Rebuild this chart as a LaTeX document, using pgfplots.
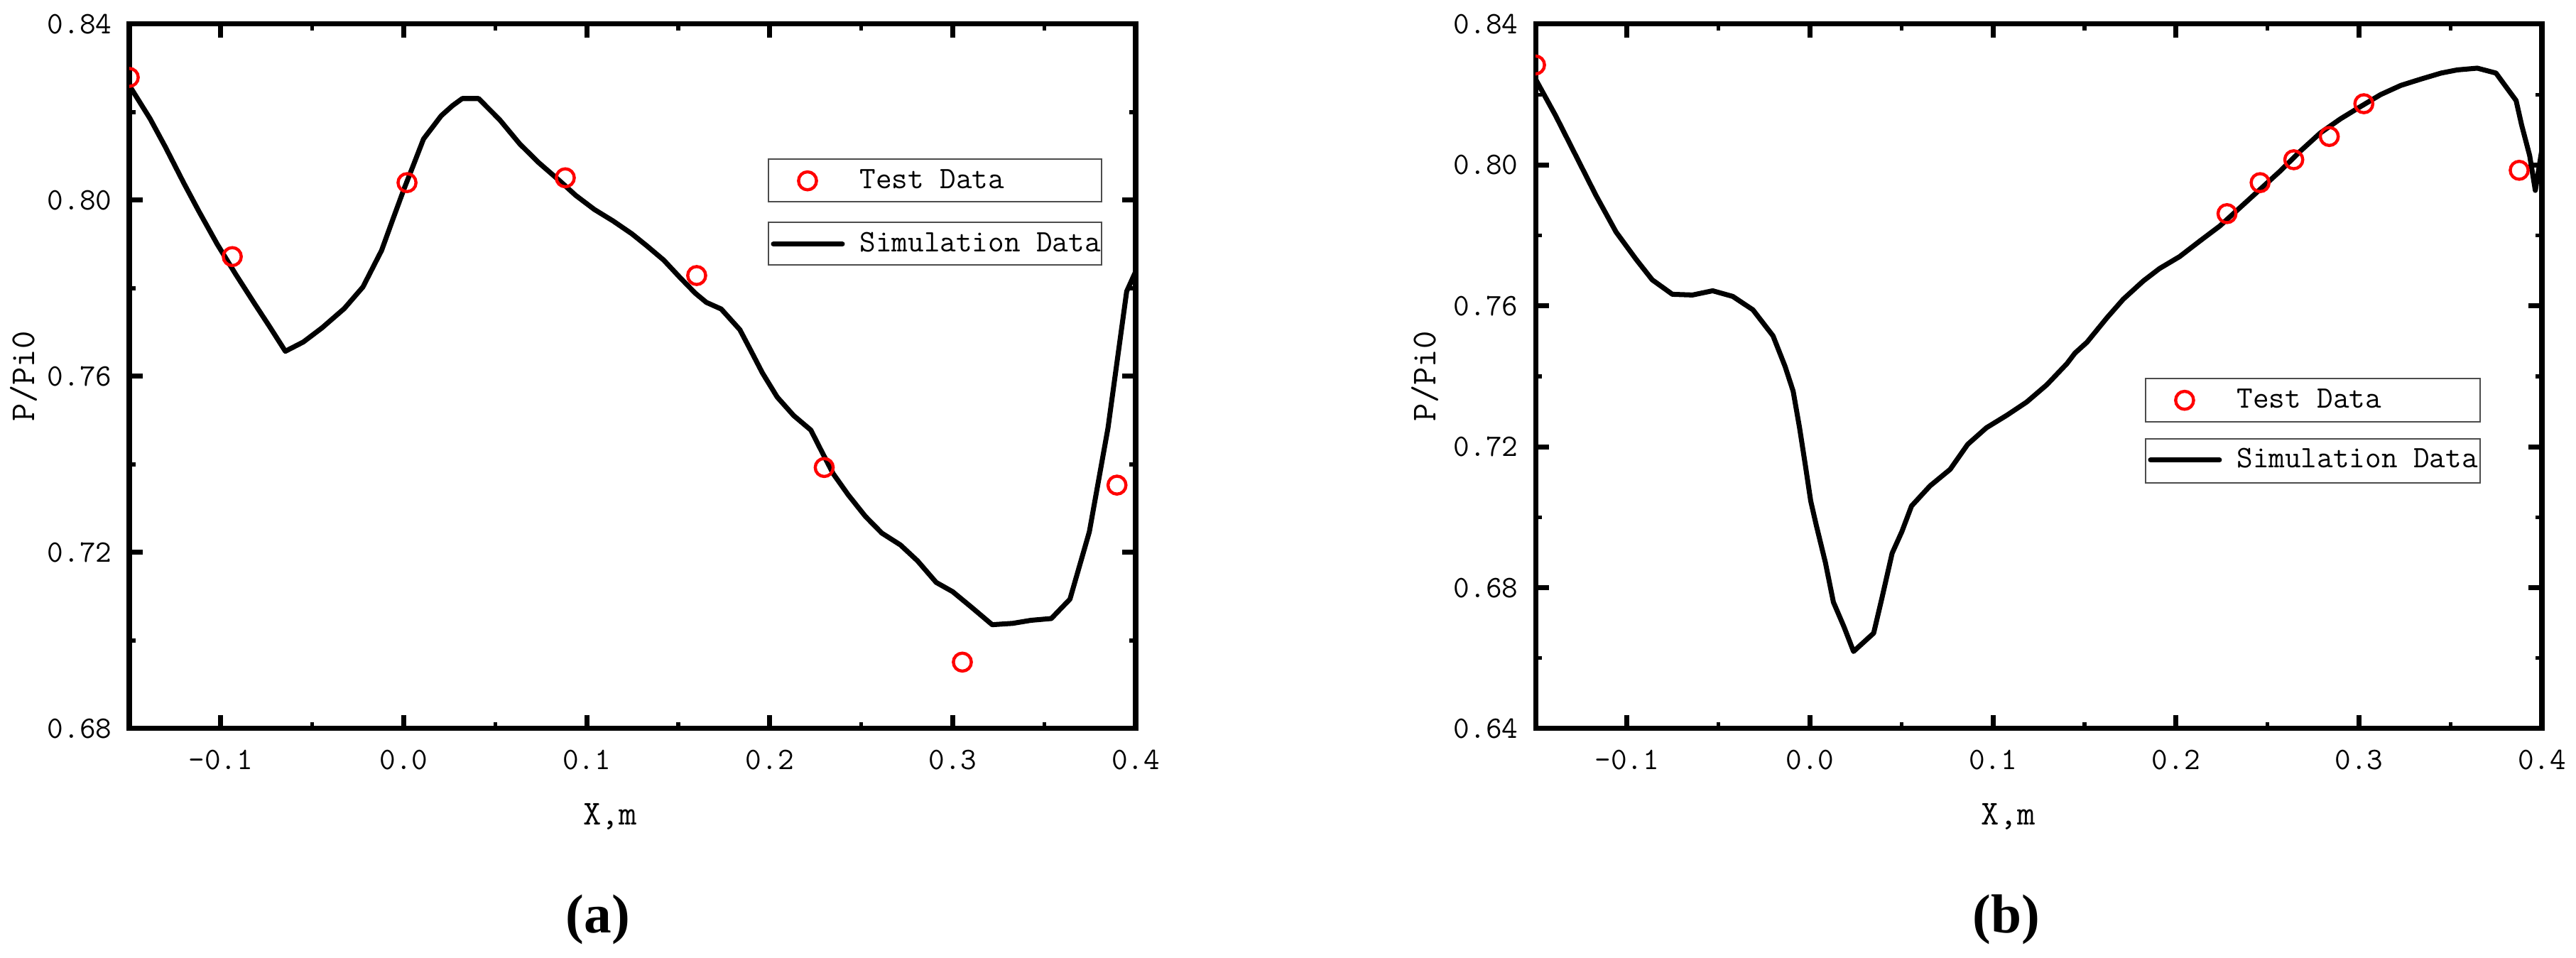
\documentclass[border=0pt]{standalone}
\usepackage{fontspec}
\usepackage{pgfplots}
\pgfplotsset{compat=1.18}
\newfontfamily\capfont{Liberation Serif}

\pgfplotstableread{
x y
-0.15 0.8261
-0.1386 0.8185
-0.1304 0.8122
-0.1202 0.8039
-0.1121 0.7976
-0.1019 0.7900
-0.0917 0.7831
-0.0815 0.7765
-0.0733 0.7713
-0.0647 0.7657
-0.0549 0.7678
-0.0447 0.7710
-0.0325 0.7754
-0.0223 0.7803
-0.0121 0.7886
-0.0060 0.7956
0.0001 0.8025
0.0054 0.8081
0.0108 0.8139
0.0205 0.8192
0.0267 0.8215
0.0320 0.8231
0.0409 0.8231
0.0524 0.8183
0.0634 0.8128
0.0736 0.8086
0.0858 0.8042
0.0940 0.8011
0.1042 0.7979
0.1144 0.7953
0.1246 0.7924
0.1327 0.7897
0.1421 0.7864
0.1511 0.7824
0.1593 0.7789
0.1654 0.7768
0.1735 0.7753
0.1837 0.7706
0.1899 0.7657
0.1960 0.7608
0.2041 0.7553
0.2131 0.7511
0.2225 0.7478
0.2286 0.7428
0.2347 0.7379
0.2429 0.7331
0.2523 0.7282
0.2613 0.7244
0.2715 0.7217
0.2808 0.7181
0.2910 0.7132
0.3000 0.7111
0.3102 0.7076
0.3216 0.7036
0.3327 0.7039
0.3429 0.7046
0.3539 0.7050
0.3641 0.7094
0.3747 0.7247
0.3849 0.7483
0.3951 0.7793
0.4000 0.7838
}\simA

\pgfplotstableread{
x y
-0.15 0.8279
-0.0937 0.7872
0.0018 0.8040
0.0883 0.8051
0.1601 0.7829
0.2298 0.7393
0.3053 0.6951
0.3898 0.7353
}\testA

\pgfplotstableread{
x y
-0.15 0.8244
-0.1390 0.8140
-0.1280 0.8027
-0.1170 0.7914
-0.1060 0.7810
-0.0950 0.7732
-0.0862 0.7674
-0.0752 0.7633
-0.0642 0.7631
-0.0532 0.7643
-0.0422 0.7627
-0.0312 0.7589
-0.0202 0.7515
-0.0136 0.7428
-0.0092 0.7358
-0.0057 0.7254
-0.0026 0.7150
0.0004 0.7046
0.0035 0.6976
0.0084 0.6872
0.0128 0.6759
0.0185 0.6690
0.0238 0.6619
0.0348 0.6671
0.0392 0.6768
0.0449 0.6898
0.0502 0.6959
0.0555 0.7032
0.0656 0.7089
0.0766 0.7136
0.0862 0.7207
0.0964 0.7254
0.1074 0.7289
0.1184 0.7327
0.1294 0.7376
0.1404 0.7436
0.1448 0.7466
0.1514 0.7497
0.1624 0.7567
0.1712 0.7619
0.1822 0.7671
0.1910 0.7706
0.2020 0.7740
0.2130 0.7784
0.2240 0.7827
0.2350 0.7879
0.2460 0.7931
0.2570 0.7983
0.2679 0.8039
0.2789 0.8091
0.2899 0.8131
0.3009 0.8166
0.3119 0.8200
0.3229 0.8226
0.3339 0.8244
0.3449 0.8261
0.3537 0.8270
0.3647 0.8275
0.3749 0.8261
0.3859 0.8183
0.3889 0.8114
0.3933 0.8027
0.3964 0.7928
0.4000 0.8044
}\simB

\pgfplotstableread{
x y
-0.15 0.8284
0.2279 0.7862
0.2460 0.7950
0.2644 0.8015
0.2838 0.8081
0.3027 0.8174
0.3876 0.7985
}\testB

\pgfplotsset{
  panel/.style={
    scale only axis, width=14.17cm, height=9.92cm,
    xmin=-0.15, xmax=0.4,
    xtick={-0.1,0,0.1,0.2,0.3,0.4},
    minor x tick num=1, minor y tick num=1,
    tick align=inside,
    major tick length=0.19cm, minor tick length=0.09cm,
    major tick style={black, line width=2pt},
    minor tick style={black, line width=1.5pt},
    axis line style={black, line width=2pt},
    /pgf/number format/assume math mode=true,
    ticklabel style={font=\fontsize{12.5}{15}\selectfont\ttfamily},
    xticklabel style={/pgf/number format/fixed, /pgf/number format/fixed zerofill, /pgf/number format/precision=1, anchor=center, yshift=-0.44cm},
    yticklabel style={/pgf/number format/fixed, /pgf/number format/fixed zerofill, /pgf/number format/precision=2, anchor=east, inner sep=0pt, xshift=-0.24cm},
    label style={font=\fontsize{14}{17}\selectfont\ttfamily},
    xlabel={X,m}, ylabel={P/Pi0},
    clip marker paths=true,
    reverse legend,
    legend cell align=left,
    legend style={anchor=north west, draw=none, fill=none, inner sep=0pt, column sep=0.21cm,
      font=\fontsize{12.5}{15}\selectfont\ttfamily,
      nodes={inner sep=0pt, minimum height=0.6cm}},
  },
  simline/.style={black, line width=2pt, line join=round,
    legend image code/.code={\path (0cm,0cm) (1.0cm,0cm); \draw[##1, line cap=round] (0.03cm,0cm) -- (1.0cm,0cm);}},
  testmark/.style={only marks, mark=o, red, mark size=3.6pt, mark options={line width=1.25pt},
    legend image code/.code={\path (0cm,0cm) (1.0cm,0cm); \draw[mark repeat=1,mark phase=1,##1] plot coordinates {(0.51cm,0cm)};}},
}

\begin{document}
\begin{tikzpicture}
\path[use as bounding box] (0,0) rectangle (36.27,13.49);

\begin{axis}[panel, at={(1.82cm,3.23cm)}, anchor=south west,
  ymin=0.68, ymax=0.84, ytick={0.68,0.72,0.76,0.80,0.84},
  xlabel style={at={(axis description cs:0.478,-0.125)}, anchor=center},
  ylabel style={at={(axis description cs:-0.105,0.5)}, anchor=center},
  legend style={at={(axis description cs:0.635,0.8085)}, row sep=0.29cm}]
\addplot[simline] table[x=x,y=y] {\simA};
\addlegendentry{Simulation Data}
\addplot[testmark] table[x=x,y=y] {\testA};
\addlegendentry{Test Data}
\draw[line width=0.6pt, black!70] (rel axis cs:0.635,0.8085) rectangle (rel axis cs:0.966,0.748);
\draw[line width=0.6pt, black!70] (rel axis cs:0.635,0.7188) rectangle (rel axis cs:0.966,0.6583);
\end{axis}

\begin{axis}[panel, at={(21.62cm,3.23cm)}, anchor=south west,
  ymin=0.64, ymax=0.84, ytick={0.64,0.68,0.72,0.76,0.80,0.84},
  xlabel style={at={(axis description cs:0.470,-0.125)}, anchor=center},
  ylabel style={at={(axis description cs:-0.110,0.5)}, anchor=center},
  legend style={at={(axis description cs:0.606,0.497)}, row sep=0.24cm}]
\addplot[simline] table[x=x,y=y] {\simB};
\addlegendentry{Simulation Data}
\addplot[testmark] table[x=x,y=y] {\testB};
\addlegendentry{Test Data}
\draw[line width=0.6pt, black!70] (rel axis cs:0.606,0.497) rectangle (rel axis cs:0.9386,0.4355);
\draw[line width=0.6pt, black!70] (rel axis cs:0.606,0.4113) rectangle (rel axis cs:0.9386,0.3488);
\end{axis}

\node[font=\fontsize{22}{26}\selectfont\capfont\bfseries] at (8.42,0.545) {(a)};
\node[font=\fontsize{22}{26}\selectfont\capfont\bfseries] at (28.245,0.545) {(b)};
\end{tikzpicture}
\end{document}
